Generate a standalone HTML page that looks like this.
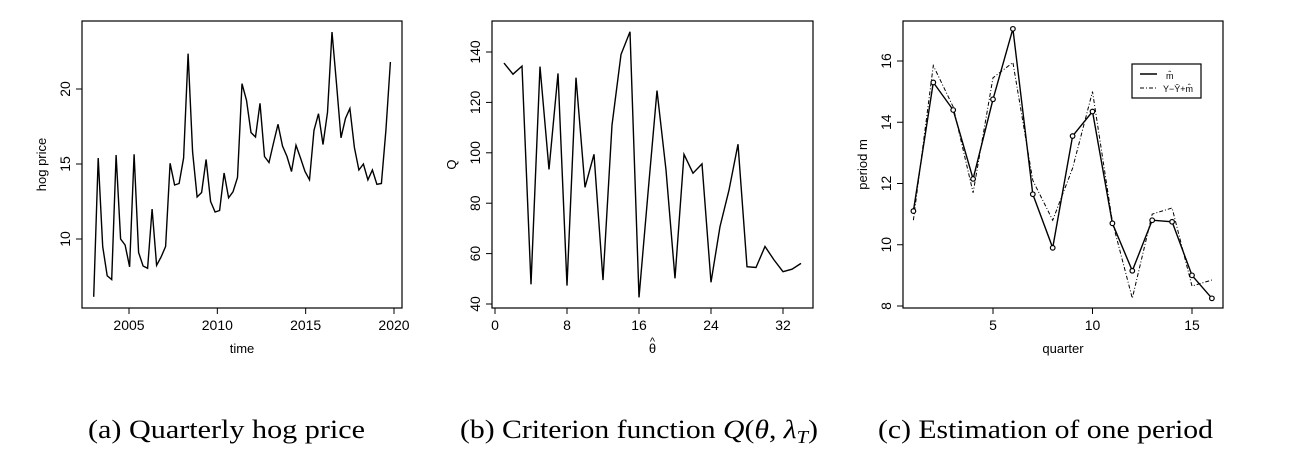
<!DOCTYPE html>
<html><head><meta charset="utf-8"><style>
body{margin:0;background:#fff;width:1298px;height:470px;overflow:hidden}
svg{font-family:"Liberation Sans",sans-serif}
.cap{font-family:"Liberation Serif",serif;font-size:26px}
</style></head><body>
<svg id="s" width="1298" height="470">
<text class="cap" x="88" y="438" textLength="277" lengthAdjust="spacingAndGlyphs">(a) Quarterly hog price</text>
<text class="cap" x="460" y="438" textLength="358" lengthAdjust="spacingAndGlyphs">(b) Criterion function <tspan font-style="italic">Q</tspan>(<tspan font-style="italic">θ</tspan>, <tspan font-style="italic">λ</tspan><tspan font-style="italic" font-size="18" dy="5">T</tspan><tspan dy="-5">)</tspan></text>
<text class="cap" x="878" y="438" textLength="335" lengthAdjust="spacingAndGlyphs">(c) Estimation of one period</text>
</svg>
<script>
const hogStart = 2003;
const hogStep = 0.2545;
const hogPrice = [6.15,15.4,9.5,7.55,7.3,15.6,10.0,9.6,8.15,15.65,9.1,8.2,8.05,12.0,8.25,8.8,9.5,15.05,13.6,13.7,15.4,22.35,15.8,12.8,13.1,15.3,12.5,11.8,11.9,14.4,12.75,13.15,14.1,20.35,19.25,17.1,16.8,19.05,15.5,15.1,16.4,17.65,16.2,15.5,14.5,16.25,15.4,14.5,13.95,17.25,18.35,16.3,18.45,23.8,20.35,16.75,18.05,18.7,16.1,14.6,15.0,13.95,14.6,13.65,13.7,17.25,21.8];
const hogXTicks = [2005,2010,2015,2020];
const hogYTicks = [10,15,20];
const qTheta = [1,2,3,4,5,6,7,8,9,10,11,12,13,14,15,16,17,18,19,20,21,22,23,24,25,26,27,28,29,30,31,32,33,34];
const qValues = [135.6,131.2,134.4,47.8,134.2,93.4,131.5,47.3,129.8,86.3,99.4,49.5,111,139,148,42.6,84,124.7,93.2,50.2,99.4,91.9,95.6,48.6,70.7,85.2,103.4,54.8,54.5,62.8,57.5,52.8,53.8,56.1];
const qXTicks = [0,8,16,24,32];
const qYTicks = [40,60,80,100,120,140];
const quarters = [1,2,3,4,5,6,7,8,9,10,11,12,13,14,15,16];
const mHat = [11.1,15.3,14.4,12.15,14.75,17.05,11.65,9.9,13.55,14.35,10.7,9.15,10.8,10.75,9.0,8.25];
const mAdj = [10.8,15.85,14.5,11.7,15.45,15.95,12.1,10.8,12.5,15.0,10.75,8.25,11.0,11.2,8.65,8.85];
const pXTicks = [5,10,15];
const pYTicks = [8,10,12,14,16];

const NS='http://www.w3.org/2000/svg', S=document.getElementById('s');
function el(t,a,p){const e=document.createElementNS(NS,t);for(const k in a)e.setAttribute(k,a[k]);(p||S).appendChild(e);return e;}
function lin(d0,d1,r0,r1){return v=>r0+(v-d0)*(r1-r0)/(d1-d0);}

function panel(name,box,xs,ys,xt,yt,xlab,ylab){
  const g=el('g',{});
  
  
  const r=el('rect',{x:box.l,y:box.t,width:box.r-box.l,height:box.b-box.t,fill:'none',stroke:'#000','stroke-width':1.2},g);
  
  
  xt.forEach(v=>{const x=xs(v);
    el('line',{x1:x,x2:x,y1:box.b,y2:box.b+6,stroke:'#000'},g);
    const t=el('text',{x:x,y:box.b+22,'text-anchor':'middle','font-size':14},g);t.textContent=v;
    
    });
  yt.forEach(v=>{const y=ys(v);
    el('line',{x1:box.l,x2:box.l-6,y1:y,y2:y,stroke:'#000'},g);
    const t=el('text',{x:0,y:0,'text-anchor':'middle','font-size':14,transform:`translate(${box.l-12},${y}) rotate(-90)`},g);t.textContent=v;
    
    });
  const xl=el('text',{x:(box.l+box.r)/2,y:box.b+45,'text-anchor':'middle','font-size':13},g);xl.textContent=xlab;
  
  
  const yl=el('text',{x:0,y:0,'text-anchor':'middle','font-size':13,transform:`translate(${box.l-36},${(box.t+box.b)/2}) rotate(-90)`},g);yl.textContent=ylab;
  
  
  return g;
}
function line(g,xsArr,vals,xs,ys,attrs,name){
  const d=vals.map((v,i)=>(i?'L':'M')+xs(xsArr[i]).toFixed(1)+','+ys(v).toFixed(1)).join('');
  const p=el('path',Object.assign({d:d,fill:'none',stroke:'#000','stroke-width':1.4},attrs),g);
  
  
  return p;
}
// Panel a
const b1={l:82,r:402,t:21,b:308};
const x1=lin(2005,2020,129,394), y1=lin(10,20,239,89);
const g1=panel('hog-price-chart',b1,x1,y1,hogXTicks,hogYTicks,'time','hog price');
line(g1,hogPrice.map((v,i)=>hogStart+i*hogStep),hogPrice,x1,y1,{},'hog-price-line');
// Panel b
const b2={l:492,r:813,t:21,b:308};
const x2=lin(0,32,495,783), y2=lin(40,140,304,52);
const g2=panel('criterion-chart',b2,x2,y2,qXTicks,qYTicks,'θ','Q');
const hat=el('text',{x:(b2.l+b2.r)/2,y:b2.b+37,'text-anchor':'middle','font-size':11},g2);hat.textContent='^';
line(g2,qTheta,qValues,x2,y2,{},'criterion-line');
// Panel c
const b3={l:903,r:1223,t:21,b:308};
const x3=lin(5,15,993,1192), y3=lin(8,16,306,61);
const g3=panel('period-chart',b3,x3,y3,pXTicks,pYTicks,'quarter','period m');
line(g3,quarters,mAdj,x3,y3,{'stroke-dasharray':'4,2,1,2','stroke-width':1},'adjusted-line');
line(g3,quarters,mHat,x3,y3,{},'m-hat-line');
mHat.forEach((v,i)=>{const c=el('circle',{cx:x3(quarters[i]),cy:y3(v),r:2.3,fill:'#fff',stroke:'#000','stroke-width':1.2},g3);
  
  });
const lg=el('g',{},g3);


el('rect',{x:1132,y:64,width:69,height:34,fill:'#fff',stroke:'#000','stroke-width':1.2},lg);
el('line',{x1:1140,x2:1157,y1:74,y2:74,stroke:'#000','stroke-width':1.4},lg);
el('line',{x1:1140,x2:1157,y1:88,y2:88,stroke:'#000','stroke-width':1,'stroke-dasharray':'4,2,1,2'},lg);
const t1=el('text',{x:1166,y:79,'font-size':9},lg);t1.textContent='m̂';
const t2=el('text',{x:1163,y:92,'font-size':9},lg);t2.textContent='Y−Ŷ+m̂';
</script>
</body></html>
